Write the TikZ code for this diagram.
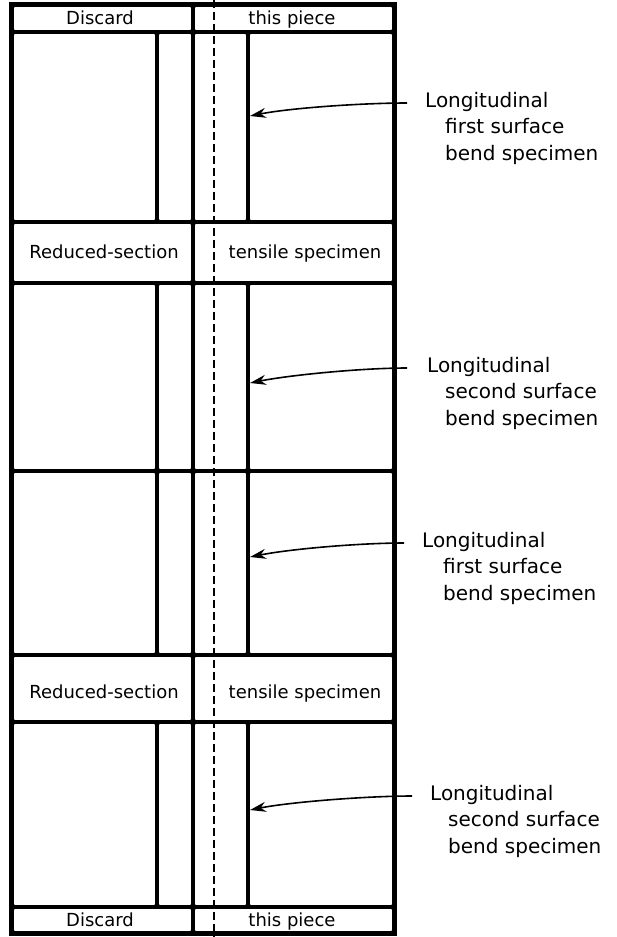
\documentclass[tikz,border=0pt]{standalone}
\usepackage{fontspec}
\setmainfont{DejaVu Sans}
\usetikzlibrary{arrows.meta}
\begin{document}
\begin{tikzpicture}[x=1pt,y=-1pt,>={Stealth[length=16pt,width=10pt]},
  cell/.style={line width=3.6pt, rounded corners=3pt},
  band/.style={font=\fontsize{18}{22}\selectfont, anchor=base, inner sep=0pt},
  note/.style={font=\fontsize{20}{26.5}\selectfont, align=left, anchor=north west, inner sep=0pt}]
\useasboundingbox (0,0) rectangle (616,937);
\draw[line width=2pt, dash pattern=on 8pt off 4pt] (214,0) -- (214,937);
% discard and tensile bands
\foreach \ya/\yb in {5/32, 222/283, 655/722, 907/933}
  \foreach \xa/\xb in {12/193, 193/394}
    \draw[cell] (\xa,\ya) rectangle (\xb,\yb);
% bend specimen blocks
\foreach \ya/\yb in {32/222, 283/471, 471/655, 722/907}
  \foreach \xa/\xb in {12/157, 157/193, 193/248, 248/394}
    \draw[cell] (\xa,\ya) rectangle (\xb,\yb);
\draw[line width=4.5pt] (11,4) rectangle (395,934);
\node[band] (discardA) at (100,24.5) {Discard};
\node[band] (pieceA) at (292,24.5) {this piece};
\node[band] (reducedA) at (104,258.5) {Reduced-section};
\node[band] (tensileA) at (305,258.5) {tensile specimen};
\node[band] (reducedB) at (104,698.5) {Reduced-section};
\node[band] (tensileB) at (305,698.5) {tensile specimen};
\node[band] (discardB) at (100,926.5) {Discard};
\node[band] (pieceB) at (292,926.5) {this piece};
\node[note] (firstA) at (425,92) {Longitudinal\\\hspace*{20pt}first surface\\\hspace*{20pt}bend specimen};
\node[note] (secondA) at (427,357) {Longitudinal\\\hspace*{18pt}second surface\\\hspace*{18pt}bend specimen};
\node[note] (firstB) at (422,532) {Longitudinal\\\hspace*{21pt}first surface\\\hspace*{21pt}bend specimen};
\node[note] (secondB) at (430,785) {Longitudinal\\\hspace*{18pt}second surface\\\hspace*{18pt}bend specimen};
\coordinate (tailA) at ([xshift=-18pt,yshift=-11pt]firstA.north west);
\coordinate (tailB) at ([xshift=-20pt,yshift=-11pt]secondA.north west);
\coordinate (tailC) at ([xshift=-18pt,yshift=-11pt]firstB.north west);
\coordinate (tailD) at ([xshift=-18pt,yshift=-11pt]secondB.north west);
\coordinate (tipA) at (250,116);
\coordinate (tipB) at (250,383);
\coordinate (tipC) at (250,557);
\coordinate (tipD) at (250,810);
\draw[->, line width=1.6pt] (tailA) .. controls +(-45,0) and +(40,-8) .. (tipA);
\draw[->, line width=1.6pt] (tailB) .. controls +(-45,0) and +(40,-8) .. (tipB);
\draw[->, line width=1.6pt] (tailC) .. controls +(-45,0) and +(40,-8) .. (tipC);
\draw[->, line width=1.6pt] (tailD) .. controls +(-45,0) and +(40,-8) .. (tipD);
\end{tikzpicture}
\end{document}
